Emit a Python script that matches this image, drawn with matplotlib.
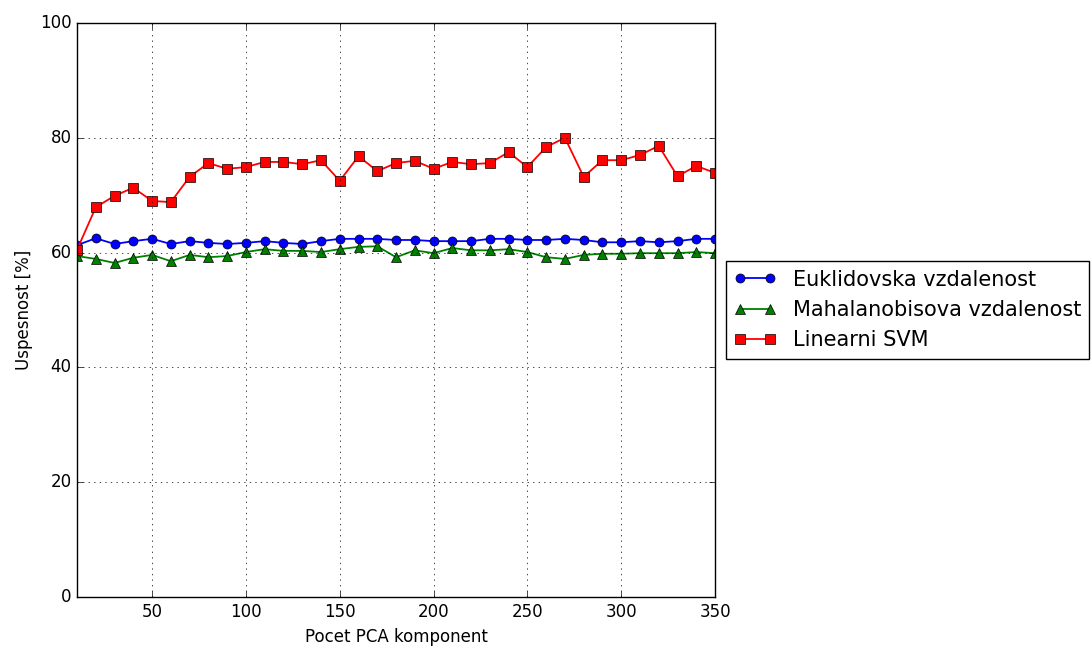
import matplotlib
matplotlib.use('Agg')
import matplotlib.pyplot as plt
import numpy as np

plt.style.use('classic')

# number of PCA components
komponenty = np.arange(10, 351, 10)

# success rate [%] per classifier
euklid = [61.3, 62.5, 61.5, 62.0, 62.4, 61.5, 62.0, 61.7, 61.5, 61.7,
          62.0, 61.7, 61.5, 62.0, 62.4, 62.4, 62.4, 62.2, 62.2, 62.0,
          62.0, 62.0, 62.4, 62.4, 62.2, 62.2, 62.4, 62.2, 61.8, 61.8,
          62.0, 61.8, 62.0, 62.4, 62.4]
mahal = [59.4, 58.9, 58.2, 59.1, 59.6, 58.5, 59.6, 59.2, 59.4, 60.1,
         60.6, 60.3, 60.3, 60.1, 60.6, 61.0, 61.1, 59.2, 60.4, 59.9,
         60.8, 60.4, 60.4, 60.6, 60.1, 59.2, 58.9, 59.6, 59.8, 59.8,
         59.9, 59.9, 59.9, 60.1, 59.9]
svm = [60.5, 67.9, 69.9, 71.3, 69.0, 68.8, 73.2, 75.6, 74.6, 74.9,
       75.8, 75.8, 75.4, 76.1, 72.5, 76.8, 74.2, 75.6, 76.0, 74.6,
       75.8, 75.4, 75.6, 77.5, 74.9, 78.4, 80.0, 73.2, 76.1, 76.1,
       77.0, 78.6, 73.3, 75.1, 73.9]

fig = plt.figure(figsize=(10.91, 6.5), dpi=100, facecolor='white')
ax = fig.add_axes([0.0706, 0.0815, 0.5848, 0.8831])

ax.plot(komponenty, euklid, 'b-o', lw=1.3, ms=6.5, label='Euklidovska vzdalenost')
ax.plot(komponenty, mahal, 'g-^', lw=1.3, ms=6.5, label='Mahalanobisova vzdalenost')
ax.plot(komponenty, svm, 'r-s', lw=1.3, ms=6.5, label='Linearni SVM')

ax.set_xlim(10, 350)
ax.set_ylim(0, 100)
ax.set_xticks([50, 100, 150, 200, 250, 300, 350])
ax.set_yticks([0, 20, 40, 60, 80, 100])
ax.grid(True)

ax.set_xlabel('Pocet PCA komponent')
ax.set_ylabel('Uspesnost [%]')

ax.legend(loc='center left', bbox_to_anchor=(1.017, 0.5), fontsize=15,
          numpoints=2, borderaxespad=0)

fig.savefig('out.png', dpi=100, facecolor='white')
